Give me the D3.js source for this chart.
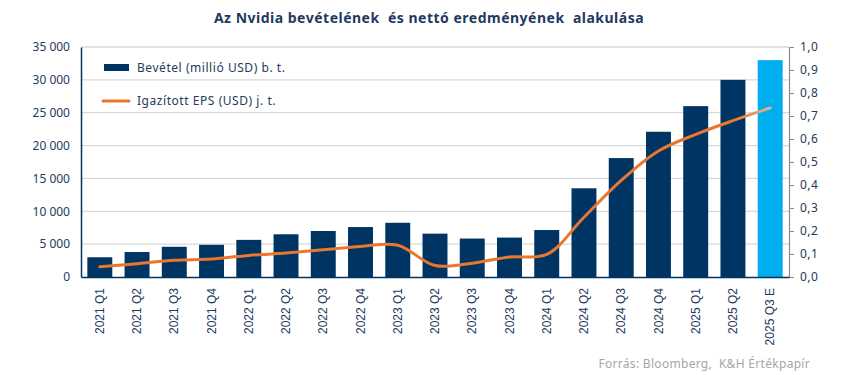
<!DOCTYPE html>
<html>
<head>
  <meta charset="utf-8">
  <script src="https://cdn.jsdelivr.net/npm/d3@7"></script>
  <style>
    body { margin: 0; background: #fff; }
    svg text { font-family: "Noto Sans", sans-serif; }
  </style>
</head>
<body>
<script>
  // quarters on the x axis
  var quarters = ["2021 Q1", "2021 Q2", "2021 Q3", "2021 Q4",
                  "2022 Q1", "2022 Q2", "2022 Q3", "2022 Q4",
                  "2023 Q1", "2023 Q2", "2023 Q3", "2023 Q4",
                  "2024 Q1", "2024 Q2", "2024 Q3", "2024 Q4",
                  "2025 Q1", "2025 Q2", "2025 Q3 E"];
  // revenue, million USD (left axis)
  var revenue = [3000, 3800, 4600, 4900, 5650, 6500, 7000, 7600, 8250,
                 6600, 5850, 6000, 7150, 13500, 18100, 22100, 26000, 30000, 33000];
  // adjusted EPS, USD (right axis)
  var eps = [0.045, 0.058, 0.073, 0.078, 0.094, 0.104, 0.118, 0.133, 0.138,
             0.05, 0.06, 0.087, 0.098, 0.26, 0.42, 0.548, 0.62, 0.68, 0.735];
  var leftTicks = [0, 5000, 10000, 15000, 20000, 25000, 30000, 35000];
  var rightTicks = [0, 0.1, 0.2, 0.3, 0.4, 0.5, 0.6, 0.7, 0.8, 0.9, 1.0];

  var W = 850, H = 375;
  var m = {left: 81, right: 61, top: 47, bottom: 98};
  var navy = "#003462", light = "#00aeef", orange = "#ea7630", grid = "#d9d9d9";

  var svg = d3.select("body").append("svg").attr("width", W).attr("height", H);

  var x = d3.scaleBand().domain(quarters).range([m.left, W - m.right]).paddingInner(0.33).paddingOuter(0.17);
  var y = d3.scaleLinear().domain([0, 35000]).range([H - m.bottom, m.top]);
  var y2 = d3.scaleLinear().domain([0, 1]).range([H - m.bottom, m.top]);

  // title
  svg.append("text").attr("x", 429).attr("y", 23).attr("text-anchor", "middle")
    .style("font-size", "14px").style("font-weight", "bold").style("letter-spacing", "0.5px")
    .style("white-space", "pre")
    .attr("fill", "#1f3a60")
    .text("Az Nvidia bevételének  és nettó eredményének  alakulása");

  // gridlines
  svg.append("g").selectAll("line").data(leftTicks.slice(1)).enter().append("line")
    .attr("x1", m.left).attr("x2", W - m.right)
    .attr("y1", function(d) { return y(d); }).attr("y2", function(d) { return y(d); })
    .attr("stroke", grid).attr("stroke-width", 1.3);

  // bars
  svg.append("g").selectAll("rect").data(revenue).enter().append("rect")
    .attr("x", function(d, i) { return x(quarters[i]); })
    .attr("width", x.bandwidth())
    .attr("y", function(d) { return y(d); })
    .attr("height", function(d) { return y(0) - y(d); })
    .attr("fill", function(d, i) { return i == quarters.length - 1 ? light : navy; });

  // left axis
  var ya = d3.axisLeft(y).tickValues(leftTicks).tickSize(0).tickPadding(11)
    .tickFormat(function(d) { return d3.format(",")(d).replace(",", " "); });
  var gl = svg.append("g").attr("transform", "translate(" + m.left + ",0)").call(ya);
  gl.select(".domain").attr("stroke", navy).attr("stroke-width", 1.5);
  gl.selectAll("text").style("font-size", "12px").attr("fill", "#243b5a").style("font-family", "Noto Sans");

  // right axis
  var yb = d3.axisRight(y2).tickValues(rightTicks).tickSize(5).tickPadding(6)
    .tickFormat(function(d) { return d3.format(".1f")(d).replace(".", ","); });
  var gr = svg.append("g").attr("transform", "translate(" + (W - m.right) + ",0)").call(yb);
  gr.select(".domain").attr("stroke", "#8c8c8c").attr("stroke-width", 1.2);
  gr.selectAll("line").attr("stroke", "#8c8c8c");
  gr.selectAll("text").style("font-size", "12px").style("letter-spacing", "0.5px")
    .attr("fill", "#243b5a").style("font-family", "Noto Sans");

  // bottom axis
  var xa = d3.axisBottom(x).tickSize(0).tickPadding(10);
  var gb = svg.append("g").attr("transform", "translate(0," + (H - m.bottom) + ")").call(xa);
  gb.select(".domain").attr("stroke", navy).attr("stroke-width", 1.5);
  gb.selectAll("text")
    .attr("transform", "rotate(-90)")
    .attr("x", -11).attr("y", 0).attr("dy", "0.35em")
    .style("text-anchor", "end")
    .style("font-size", "12px").style("font-family", "Liberation Sans")
    .attr("fill", "#1f3a60");

  // EPS line, last segment fades
  var cx = function(i) { return x(quarters[i]) + x.bandwidth() / 2; };
  var defs = svg.append("defs");
  var grad = defs.append("linearGradient").attr("id", "fade")
    .attr("gradientUnits", "userSpaceOnUse")
    .attr("x1", cx(quarters.length - 2)).attr("x2", cx(quarters.length - 1))
    .attr("y1", 0).attr("y2", 0);
  grad.append("stop").attr("offset", 0).attr("stop-color", orange);
  grad.append("stop").attr("offset", 1).attr("stop-color", "#d9b795");

  var line = d3.line()
    .x(function(d, i) { return cx(i); })
    .y(function(d) { return y2(d); })
    .curve(d3.curveCatmullRom.alpha(0.5));
  svg.append("path").datum(eps).attr("d", line)
    .attr("fill", "none").attr("stroke", "url(#fade)").attr("stroke-width", 3)
    .attr("stroke-linecap", "round");

  // legend
  var lg = svg.append("g").style("letter-spacing", "0.55px");
  lg.append("rect").attr("x", 104).attr("y", 64).attr("width", 25).attr("height", 7).attr("fill", navy);
  lg.append("text").attr("x", 137).attr("y", 72).style("font-size", "12px").attr("fill", "#243b5a")
    .text("Bevétel (millió USD) b. t.");
  lg.append("line").attr("x1", 103).attr("x2", 129).attr("y1", 101).attr("y2", 101)
    .attr("stroke", orange).attr("stroke-width", 3).attr("stroke-linecap", "round");
  lg.append("text").attr("x", 137).attr("y", 105).style("font-size", "12px").attr("fill", "#243b5a")
    .text("Igazított EPS (USD) j. t.");

  // source
  svg.append("text").attr("x", 810).attr("y", 368).attr("text-anchor", "end")
    .style("font-size", "12px").style("letter-spacing", "0.3px").style("white-space", "pre")
    .attr("fill", "#a6a6a6")
    .text("Forrás: Bloomberg,  K&H Értékpapír");
</script>
</body>
</html>
